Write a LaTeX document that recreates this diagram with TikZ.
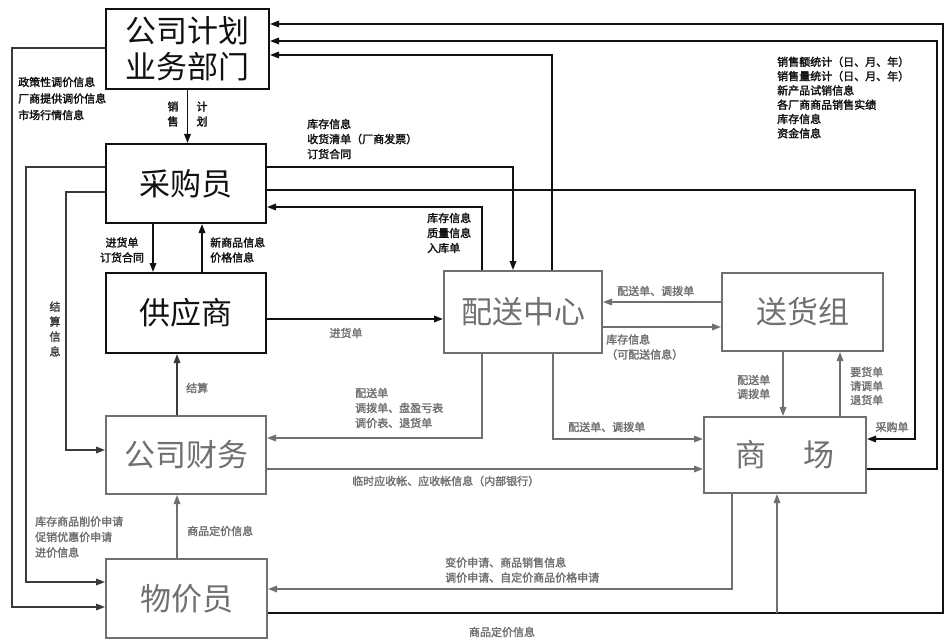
\documentclass[tikz,border=0pt]{standalone}
\usepackage{fontspec}
\setmainfont{Noto Sans CJK SC}
\newfontfamily\cjkb[FakeBold=2]{Noto Sans CJK SC}
\usetikzlibrary{arrows.meta}
\definecolor{ink}{HTML}{111111}
\definecolor{mid}{HTML}{3A3A3A}
\definecolor{soft}{HTML}{707070}
\begin{document}
\begin{tikzpicture}[x=1pt,y=-1pt,
  box/.style={draw, line width=2pt, inner sep=0pt, anchor=north west, align=center,
              font=\fontsize{31}{36}\selectfont},
  conn/.style={line width=1.6pt, -{Triangle[length=9pt,width=6.5pt]}},
  lab/.style={inner sep=0pt, anchor=west, align=left, font=\cjkb\fontsize{11}{15}\selectfont},
  labc/.style={inner sep=0pt, align=center, font=\cjkb\fontsize{11}{15}\selectfont}]
\useasboundingbox (0,0) rectangle (944,639);
\fill[white] (0,0) rectangle (944,639);

% boxes
\node[box, draw=ink, text=ink, minimum width=163pt, minimum height=80pt] (plan) at (105,8) {公司计划\\业务部门};
\node[box, draw=ink, text=ink, minimum width=160pt, minimum height=79pt] (buyer) at (105,143) {采购员};
\node[box, draw=ink, text=ink, minimum width=160pt, minimum height=80pt] (supplier) at (105,272) {供应商};
\node[box, draw=soft, text=soft, minimum width=158pt, minimum height=82pt] (dc) at (443,270) {配送中心};
\node[box, draw=soft, text=soft, minimum width=161pt, minimum height=78pt] (dg) at (721,272) {送货组};
\node[box, draw=soft, text=soft, minimum width=162pt, minimum height=76pt] (mall) at (703,416) {商\hspace{1.2em}场};
\node[box, draw=soft, text=soft, minimum width=160pt, minimum height=78pt] (fin) at (105,415) {公司财务};
\node[box, draw=soft, text=soft, minimum width=161pt, minimum height=79pt] (price) at (105,558) {物价员};

% connectors
\draw[conn, ink] (plan.south) -- (plan.south |- buyer.north);
\draw[conn, mid] (plan.west |- 0,48) -- (12,48) -- (12,607) -- (price.west |- 0,607);
\draw[conn, mid] (buyer.west |- 0,167) -- (26,167) -- (26,582) -- (price.west |- 0,582);
\draw[conn, mid] (buyer.west |- 0,192) -- (66,192) -- (66,450) -- (fin.west |- 0,450);
\draw[conn, ink] (buyer.south -| 153,0) -- (supplier.north -| 153,0);
\draw[conn, ink] (supplier.north -| 202,0) -- (buyer.south -| 202,0);
\draw[conn, ink] (supplier.east |- 0,319) -- (dc.west |- 0,319);
\draw[conn, ink] (buyer.east |- 0,167) -- (513,167) -- (dc.north -| 513,0);
\draw[conn, ink] (dc.north -| 482,0) -- (482,207) -- (buyer.east |- 0,207);
\draw[conn, ink] (buyer.east |- 0,190) -- (915,190) -- (915,439) -- (mall.east |- 0,439);
\draw[conn, ink] (dc.north -| 552,0) -- (552,55) -- (plan.east |- 0,55);
\draw[conn, ink] (mall.east |- 0,469) -- (937,469) -- (937,41) -- (plan.east |- 0,41);
\draw[conn, ink] (price.east |- 0,613) -- (943,613) -- (943,24) -- (plan.east |- 0,24);
\coordinate (mj) at (777,613);
\draw[conn, soft] (mj) -- (mall.south -| mj);
\draw[conn, soft] (mall.south -| 732,0) -- (732,589) -- (price.east |- 0,589);
\draw[conn, soft] (dc.south -| 482,0) -- (482,438) -- (fin.east |- 0,438);
\draw[conn, soft] (dc.south -| 553,0) -- (553,439) -- (mall.west |- 0,439);
\draw[conn, soft] (fin.east |- 0,469) -- (mall.west |- 0,469);
\draw[conn, mid] (fin.north -| 177,0) -- (supplier.south -| 177,0);
\draw[conn, soft] (price.north -| 177,0) -- (fin.south -| 177,0);
\draw[conn, soft] (dg.west |- 0,302) -- (dc.east |- 0,302);
\draw[conn, soft] (dc.east |- 0,327) -- (dg.west |- 0,327);
\draw[conn, soft] (dg.south -| 783,0) -- (mall.north -| 783,0);
\draw[conn, soft] (mall.north -| 840,0) -- (dg.south -| 840,0);

% labels
\node[lab, ink, font=\cjkb\fontsize{11}{16.5}\selectfont] (lpolicy) at (18,98.5) {政策性调价信息\\厂商提供调价信息\\市场行情信息};
\node[labc, ink] (lsale1) at (173,114) {销\\售};
\node[labc, ink] (lsale2) at (202,114) {计\\划};
\node[labc, mid] (lsettle) at (55,329) {结\\算\\信\\息};
\node[labc, ink] (lorder) at (122,250) {进货单\\订货合同};
\node[lab, ink] (lnew) at (210,250) {新商品信息\\价格信息};
\node[labc, soft] (lin) at (346,333) {进货单};
\node[lab, ink] (lH) at (307,139) {库存信息\\收货清单（厂商发票）\\订货合同};
\node[lab, ink] (lI) at (427,233) {库存信息\\质量信息\\入库单};
\node[labc, soft] (lJ) at (892,427) {采购单};
\node[lab, ink, font=\cjkb\fontsize{11}{14.3}\selectfont] (lL) at (777,97.5)
  {销售额统计（日、月、年）\\销售量统计（日、月、年）\\新产品试销信息\\各厂商商品销售实绩\\库存信息\\资金信息};
\node[labc, soft] (lM) at (502,632) {商品定价信息};
\node[lab, soft] (lN) at (445,570) {变价申请、商品销售信息\\调价申请、自定价商品价格申请};
\node[lab, soft] (lO) at (355,408) {配送单\\调拨单、盘盈亏表\\调价表、退货单};
\node[lab, soft] (lP) at (568,427) {配送单、调拨单};
\node[lab, soft] (lQ) at (352,481) {临时应收帐、应收帐信息（内部银行）};
\node[lab, soft] (lR) at (186,388) {结算};
\node[lab, soft] (lS) at (187,531) {商品定价信息};
\node[lab, soft] (lT) at (617,291) {配送单、调拨单};
\node[lab, soft] (lU) at (606,347) {库存信息\\（可配送信息）};
\node[lab, soft, font=\cjkb\fontsize{11}{14}\selectfont] (lV) at (737,387) {配送单\\调拨单};
\node[lab, soft, font=\cjkb\fontsize{11}{14}\selectfont] (lW) at (850,386) {要货单\\请调单\\退货单};
\node[lab, soft, font=\cjkb\fontsize{11}{15.5}\selectfont] (lstock) at (35,537) {库存商品削价申请\\促销优惠价申请\\进价信息};
\end{tikzpicture}
\end{document}
